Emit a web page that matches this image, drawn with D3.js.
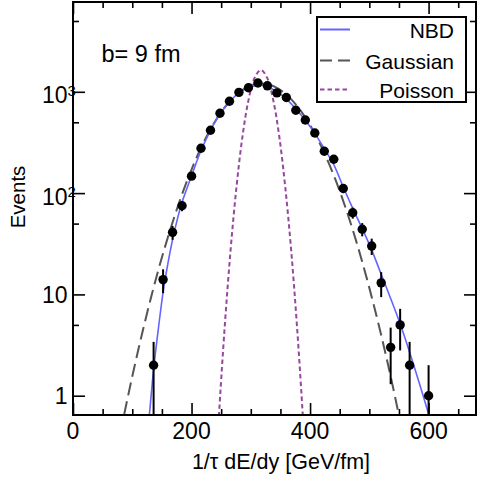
<!DOCTYPE html>
<html>
<head>
<meta charset="utf-8">
<script src="https://cdnjs.cloudflare.com/ajax/libs/d3/7.8.5/d3.min.js"></script>
<style>
  body { margin: 0; background: #fff; }
  svg { font-family: "Liberation Sans", Arial, sans-serif; }
</style>
</head>
<body>
<svg id="chart" width="477" height="480"></svg>
<script>
// histogram of events
const binCenters = [136, 152, 168, 184, 200, 216, 232, 248, 264, 280, 296, 312, 328, 344, 360,
  376, 392, 408, 424, 440, 456, 472, 488, 504, 520, 536, 552, 568, 600];
const eventCounts = [2, 14, 41, 75, 147, 277, 417, 614, 806, 988, 1096, 1222, 1146, 977, 879,
  658, 527, 392, 259, 216, 111, 64, 44, 30, 13, 3, 5, 2, 1];
const eventErrors = [1.4, 3.7, 6.4, 8.7, 12, 17, 20, 25, 28, 31, 33, 35, 34, 31, 30,
  26, 23, 20, 16, 15, 11, 8, 6.6, 5.5, 3.6, 1.7, 2.2, 1.4, 1];

// fitted curves
const nbdX = [127, 130, 136, 144, 152, 160, 168, 176, 184, 200, 216, 232, 248, 264, 280, 296, 312,
  328, 344, 360, 376, 392, 408, 424, 440, 456, 472, 488, 504, 520, 536, 552, 568, 584, 600, 612];
const nbdY = [0.50, 0.76, 1.82, 4.57, 10.5, 20.0, 34.7, 55.0, 81.3, 148, 263, 417, 603, 794, 977,
  1096, 1161, 1122, 1000, 851, 676, 525, 389, 275, 191, 115, 70.8, 44.7, 27.5, 15.8, 9.12, 5.13,
  2.69, 1.35, 0.66, 0.38];

const gaussX = [80, 100, 120, 140, 160, 180, 200, 220, 240, 260, 280, 300, 320, 340, 360, 380,
  400, 420, 440, 460, 480, 500, 520, 540, 560];
const gaussY = [0.433, 1.55, 4.97, 14.3, 36.5, 83.6, 171, 313, 513, 751, 982, 1148, 1202, 1124,
  939, 702, 469, 280, 150, 71.4, 30.5, 11.6, 3.97, 1.21, 0.33];

const poissonX = [241, 246, 256, 266, 276, 286, 296, 306, 317, 328, 338, 348, 358, 368, 378, 388, 393];
const poissonY = [0.19, 0.605, 4.8, 27.8, 117, 364, 822, 1358, 1641, 1358, 822, 364, 117, 27.8,
  4.8, 0.605, 0.19];

const xMajorTicks = [0, 200, 400, 600];
const xMinorTicks = [50, 100, 150, 250, 300, 350, 450, 500, 550, 650];
const yMajorTicks = [1, 10, 100, 1000];
const yMinorTicks = [5, 50, 500, 5000];
const yTickBase = ["1", "10", "10", "10"];
const yTickPower = ["", "", "2", "3"];

const legendNames = ["NBD", "Gaussian", "Poisson"];
const legendColors = ["#6464ff", "#555555", "#96479f"];
const legendDash = ["none", "13,6", "4.5,3"];

const LEFT = 73, RIGHT = 476, TOP = 2, BOTTOM = 415;

var svg = d3.select('#chart');

var x = d3.scaleLinear().domain([0, 680]).range([LEFT, RIGHT]);
var y = d3.scaleLog().domain([0.645, 7700]).range([BOTTOM, TOP]);

svg.append('defs').append('clipPath').attr('id', 'plotArea')
  .append('rect')
  .attr('x', LEFT).attr('y', TOP)
  .attr('width', RIGHT - LEFT).attr('height', BOTTOM - TOP);

// ticks on all four sides, pointing inward
function tickAxis(axis, values, size, tx, ty) {
  var g = svg.append('g')
    .attr('transform', 'translate(' + tx + ',' + ty + ')')
    .call(axis.tickValues(values).tickSize(size).tickFormat(''));
  g.select('.domain').remove();
  g.selectAll('line').attr('stroke', '#000').attr('stroke-width', 1.6);
}
tickAxis(d3.axisBottom(x), xMajorTicks, -12, 0, BOTTOM);
tickAxis(d3.axisBottom(x), xMinorTicks, -6, 0, BOTTOM);
tickAxis(d3.axisTop(x), xMajorTicks, -12, 0, TOP);
tickAxis(d3.axisTop(x), xMinorTicks, -6, 0, TOP);
tickAxis(d3.axisLeft(y), yMajorTicks, -12, LEFT, 0);
tickAxis(d3.axisLeft(y), yMinorTicks, -6, LEFT, 0);
tickAxis(d3.axisRight(y), yMajorTicks, -12, RIGHT, 0);
tickAxis(d3.axisRight(y), yMinorTicks, -6, RIGHT, 0);

// curves
var plot = svg.append('g').attr('clip-path', 'url(#plotArea)');

function drawCurve(xs, ys, color, dash, width) {
  var pts = xs.map(function (v, i) { return [v, ys[i]]; });
  plot.append('path')
    .datum(pts)
    .attr('fill', 'none')
    .attr('stroke', color)
    .attr('stroke-width', width)
    .attr('stroke-dasharray', dash)
    .attr('d', d3.line()
      .x(function (d) { return x(d[0]); })
      .y(function (d) { return y(d[1]); })
      .curve(d3.curveCatmullRom));
}
drawCurve(poissonX, poissonY, legendColors[2], legendDash[2], 2);
drawCurve(gaussX, gaussY, legendColors[1], legendDash[1], 2);
drawCurve(nbdX, nbdY, legendColors[0], legendDash[0], 1.6);

// error bars and points
plot.selectAll('.err')
  .data(binCenters)
  .enter().append('line')
  .attr('class', 'err')
  .attr('x1', function (d) { return x(d); })
  .attr('x2', function (d) { return x(d); })
  .attr('y1', function (d, i) { return y(Math.max(eventCounts[i] - eventErrors[i], 0.3)); })
  .attr('y2', function (d, i) { return y(eventCounts[i] + eventErrors[i]); })
  .attr('stroke', '#000')
  .attr('stroke-width', 2);

plot.selectAll('.pt')
  .data(binCenters)
  .enter().append('circle')
  .attr('class', 'pt')
  .attr('cx', function (d) { return x(d); })
  .attr('cy', function (d, i) { return y(eventCounts[i]); })
  .attr('r', 4.7)
  .attr('fill', '#000');

// frame
svg.append('rect')
  .attr('x', LEFT).attr('y', TOP)
  .attr('width', RIGHT - LEFT).attr('height', BOTTOM - TOP)
  .attr('fill', 'none').attr('stroke', '#000').attr('stroke-width', 2);

// tick labels
svg.selectAll('.xlab')
  .data(xMajorTicks)
  .enter().append('text')
  .attr('x', function (d) { return x(d); })
  .attr('y', 439)
  .attr('text-anchor', 'middle')
  .attr('font-size', 23)
  .text(function (d) { return d; });

var ylab = svg.selectAll('.ylab')
  .data(yMajorTicks)
  .enter().append('g');
ylab.append('text')
  .attr('x', 67.5)
  .attr('y', function (d, i) { return y(d) + (yTickPower[i] ? 11.5 : 8.5); })
  .attr('text-anchor', 'end')
  .attr('font-size', 23)
  .text(function (d, i) { return yTickBase[i]; });
ylab.append('text')
  .attr('x', 67.5)
  .attr('y', function (d) { return y(d) + 4; })
  .attr('font-size', 15)
  .text(function (d, i) { return yTickPower[i]; });

// axis titles
svg.append('text')
  .attr('x', 281).attr('y', 469)
  .attr('text-anchor', 'middle')
  .attr('font-size', 21.5)
  .text('1/τ dE/dy [GeV/fm]');

svg.append('text')
  .attr('transform', 'translate(25,197) rotate(-90)')
  .attr('text-anchor', 'middle')
  .attr('font-size', 20.5)
  .text('Events');

svg.append('text')
  .attr('x', 101.5).attr('y', 62)
  .attr('font-size', 23.5)
  .text('b= 9 fm');

// legend
var legend = svg.append('g');
legend.append('rect')
  .attr('x', 317).attr('y', 17)
  .attr('width', 149).attr('height', 85)
  .attr('fill', '#fff').attr('stroke', '#000').attr('stroke-width', 2);
var rowY = [29.5, 60.5, 89.5];
legendNames.forEach(function (name, i) {
  legend.append('line')
    .attr('x1', 320).attr('x2', 350)
    .attr('y1', rowY[i]).attr('y2', rowY[i])
    .attr('stroke', legendColors[i])
    .attr('stroke-width', 2)
    .attr('stroke-dasharray', i === 1 ? '12,6' : legendDash[i]);
  legend.append('text')
    .attr('x', 454).attr('y', rowY[i] + 8.5)
    .attr('text-anchor', 'end')
    .attr('font-size', 21)
    .text(name);
});
</script>
</body>
</html>
